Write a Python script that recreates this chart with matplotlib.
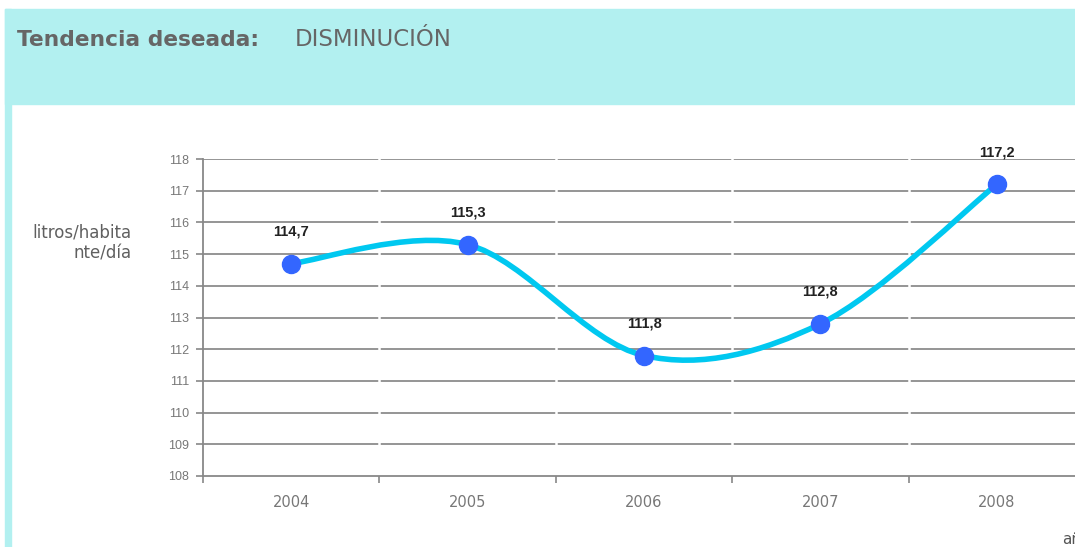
import matplotlib.pyplot as plt
from matplotlib.path import Path
from matplotlib.patches import PathPatch, Rectangle

years = ["2004", "2005", "2006", "2007", "2008"]
valores = [114.7, 115.3, 111.8, 112.8, 117.2]
etiquetas = ["114,7", "115,3", "111,8", "112,8", "117,2"]
y_ticks = [108, 109, 110, 111, 112, 113, 114, 115, 116, 117, 118]

W, H = 1075, 547
fig = plt.figure(figsize=(W / 100, H / 100), dpi=100)

# header band + left strip
cyan = "#b2f0f0"
fig.patches.append(Rectangle((5 / W, 1 - 104 / H), 1, 95 / H, transform=fig.transFigure,
                             color=cyan, zorder=0))
fig.patches.append(Rectangle((5 / W, 0), 6 / W, 1 - 9 / H, transform=fig.transFigure,
                             color=cyan, zorder=0))
fig.text(17 / W, 1 - 40 / H, "Tendencia deseada:", fontsize=15.7, fontweight="bold",
         color="#666666", va="center", ha="left")
fig.text(295 / W, 1 - 40 / H, "DISMINUCIÓN", fontsize=16.5, color="#666666",
         va="center", ha="left")

fig.text(132 / W, 1 - 243 / H, "litros/habita\nnte/día", fontsize=12, color="#606060",
         ha="right", va="center", multialignment="right", linespacing=1.25)
fig.text(1062 / W, 1 - 540 / H, "año", fontsize=11, color="#555555", ha="left", va="center")

ax = fig.add_axes([203 / W, 1 - 476 / H, (1085 - 203) / W, (476 - 159) / H])
x = list(range(len(years)))
ax.set_xlim(-0.5, len(years) - 0.5)
ax.set_ylim(108, 118)

for s in ["top", "right"]:
    ax.spines[s].set_visible(False)
for s in ["left", "bottom"]:
    ax.spines[s].set_color("#888888")
    ax.spines[s].set_linewidth(1.3)

ax.set_yticks(y_ticks)
ax.set_yticklabels([str(t) for t in y_ticks], fontsize=9, color="#777777",
                   family="Liberation Sans")
ax.tick_params(axis="y", length=5, color="#888888", width=1.2, pad=5)
ax.set_xticks(x)
ax.set_xticklabels(years, fontsize=10.5, color="#777777")
ax.tick_params(axis="x", length=0, pad=14)
ax.set_xticks([i - 0.5 for i in range(len(years) + 1)], minor=True)
ax.tick_params(axis="x", which="minor", length=5, color="#888888", width=1.2)

for t in y_ticks[1:]:
    ax.axhline(t, color="#8c8c8c", lw=1.3, zorder=1)
for i in range(len(years) - 1):
    ax.axvline(i + 0.5, color="white", lw=1.8, zorder=2)

# smoothed line (Catmull-Rom style bezier)
pts = list(zip(x, valores))
verts = [pts[0]]
codes = [Path.MOVETO]
n = len(pts)
for i in range(n - 1):
    p0 = pts[max(i - 1, 0)]
    p1 = pts[i]
    p2 = pts[i + 1]
    p3 = pts[min(i + 2, n - 1)]
    c1 = (p1[0] + (p2[0] - p0[0]) / 6, p1[1] + (p2[1] - p0[1]) / 6)
    c2 = (p2[0] - (p3[0] - p1[0]) / 6, p2[1] - (p3[1] - p1[1]) / 6)
    verts += [c1, c2, p2]
    codes += [Path.CURVE4] * 3
ax.add_patch(PathPatch(Path(verts, codes), fill=False, edgecolor="#00c8f0", lw=4,
                       capstyle="round", zorder=3))
ax.plot(x, valores, "o", color="#3366ff", markersize=13, zorder=4, clip_on=False)

for xi, v, lab in zip(x, valores, etiquetas):
    ax.annotate(lab, (xi, v), xytext=(0, 23), textcoords="offset points", ha="center",
                va="center", fontsize=10.5, fontweight="bold", color="#222222",
                family="Liberation Sans", annotation_clip=False)

fig.savefig("out.png", dpi=100)
